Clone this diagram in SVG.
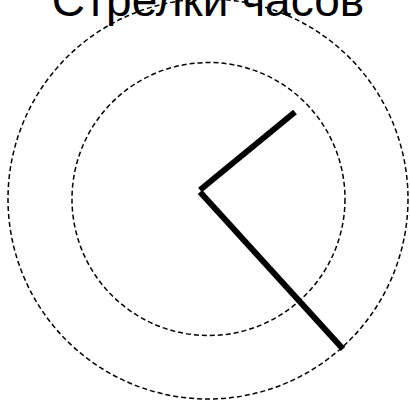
<svg xmlns="http://www.w3.org/2000/svg" width="410" height="402" viewBox="0 0 410 402">
<style>
.ring{fill:none;stroke:#000;stroke-width:1.5;stroke-dasharray:5,3}
.hand{stroke:#000;stroke-width:6;fill:none}
.title{font-family:"Liberation Sans",Arial,sans-serif;font-size:46px;fill:#000}
</style>
<rect width="410" height="402" fill="#fff"/>
<text class="title" x="208" y="16" text-anchor="middle">Стрелки часов</text>
<g id="outer-ring"><circle class="ring" cx="208" cy="199" r="200"/></g>
<g id="inner-ring"><circle class="ring" cx="208.5" cy="199" r="136.5"/></g>
<g id="hands">
<line id="hour-hand" class="hand" x1="200" y1="190" x2="295" y2="112"/>
<line id="minute-hand" class="hand" x1="200" y1="192" x2="343" y2="349"/>
</g>
</svg>
